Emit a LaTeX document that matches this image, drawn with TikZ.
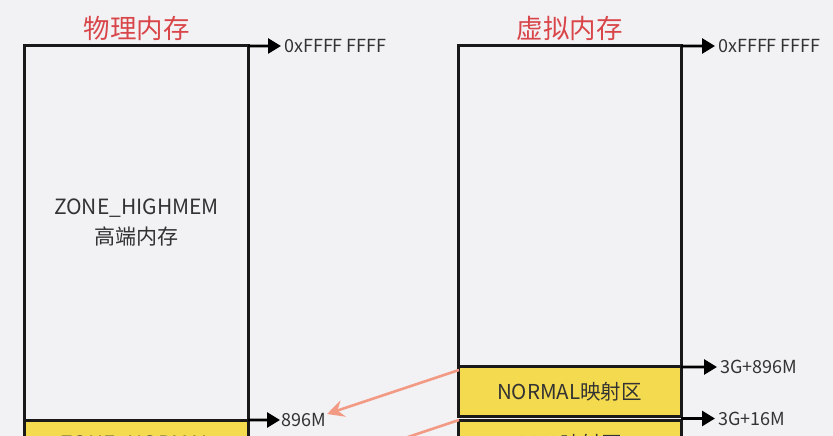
\documentclass[tikz,border=0pt]{standalone}
\usepackage{fontspec}
\setmainfont{Noto Sans CJK SC}
\usetikzlibrary{arrows.meta}
\definecolor{bg}{HTML}{F2F2F4}
\definecolor{ylw}{HTML}{F4DA4E}
\definecolor{ttl}{HTML}{D9464A}
\definecolor{txt}{HTML}{333333}
\definecolor{salmon}{HTML}{F39A84}
\tikzset{
  mem/.style={draw=black!90, line width=3bp, inner sep=0pt, outer sep=0pt},
  ybox/.style={mem, fill=ylw},
  arr/.style={line width=2.8bp, -{Triangle[length=13bp,width=15bp]}},
  sarr/.style={draw=salmon, line width=2.6bp, -{Stealth[length=17bp,width=17bp,inset=6bp]}},
  lbl/.style={anchor=west, inner sep=0pt, text=txt, font=\fontsize{18bp}{20bp}\selectfont},
  ttlsty/.style={text=ttl, font=\fontsize{26.5bp}{30bp}\selectfont},
  inner/.style={text=txt, font=\fontsize{21bp}{30bp}\selectfont}
}
\begin{document}
\begin{tikzpicture}[x=1bp,y=-1bp]
\fill[bg] (0,0) rectangle (833,436);
\useasboundingbox (0,0) rectangle (833,436);
\clip (0,0) rectangle (833,436);
% titles
\node[ttlsty] (t1) at (136.5,28) {物理内存};
\node[ttlsty] (t2) at (569.5,28) {虚拟内存};
% physical memory
\node[mem, minimum width=223bp, minimum height=374bp] (phys) at (136.5,233) {};
\node[ybox, minimum width=223bp, minimum height=60bp] (plow) at (136.5,450) {};
\node[inner, anchor=base] (plowt) at (136.5,451) {ZONE\_NORMAL};
\node[inner, align=center] (high) at (136.5,223) {ZONE\_HIGHMEM\\高端内存};
% virtual memory
\node[mem, minimum width=223bp, minimum height=321bp] (virt) at (569.5,206.5) {};
\node[ybox, minimum width=223bp, minimum height=49bp] (normal) at (569.5,391.5) {};
\node[inner, font=\fontsize{20.5bp}{24bp}\selectfont] at (normal.center) {NORMAL映射区};
\node[ybox, minimum width=223bp, minimum height=60bp] (dma) at (569.5,450) {};
\node[inner, anchor=base, font=\fontsize{20.5bp}{24bp}\selectfont] (dmat) at (569.5,451) {DMA映射区};
% address arrows
\coordinate (a1) at (281,46);
\coordinate (a2) at (280,420);
\coordinate (a3) at (715,46);
\coordinate (a4) at (717,367);
\coordinate (s5) at (681,418.5);
\coordinate (a5) at (715,418.5);
\draw[arr] (phys.north east) -- (a1);
\node[lbl] at (284,46) {0xFFFF FFFF};
\draw[arr] (phys.south east) -- (a2);
\node[lbl] at (281,420) {896M};
\draw[arr] (virt.north east) -- (a3);
\node[lbl] at (718,46) {0xFFFF FFFF};
\draw[arr] (normal.north east) -- (a4);
\node[lbl] at (720,367) {3G+896M};
\draw[arr] (s5) -- (a5);
\node[lbl] at (718,419) {3G+16M};
% mapping arrows
\coordinate (m1) at (459,370);
\coordinate (m1e) at (327,414);
\coordinate (m2) at (459,420);
\coordinate (m2e) at (327,464);
\draw[sarr] (m1) -- (m1e);
\draw[sarr] (m2) -- (m2e);
\end{tikzpicture}
\end{document}
